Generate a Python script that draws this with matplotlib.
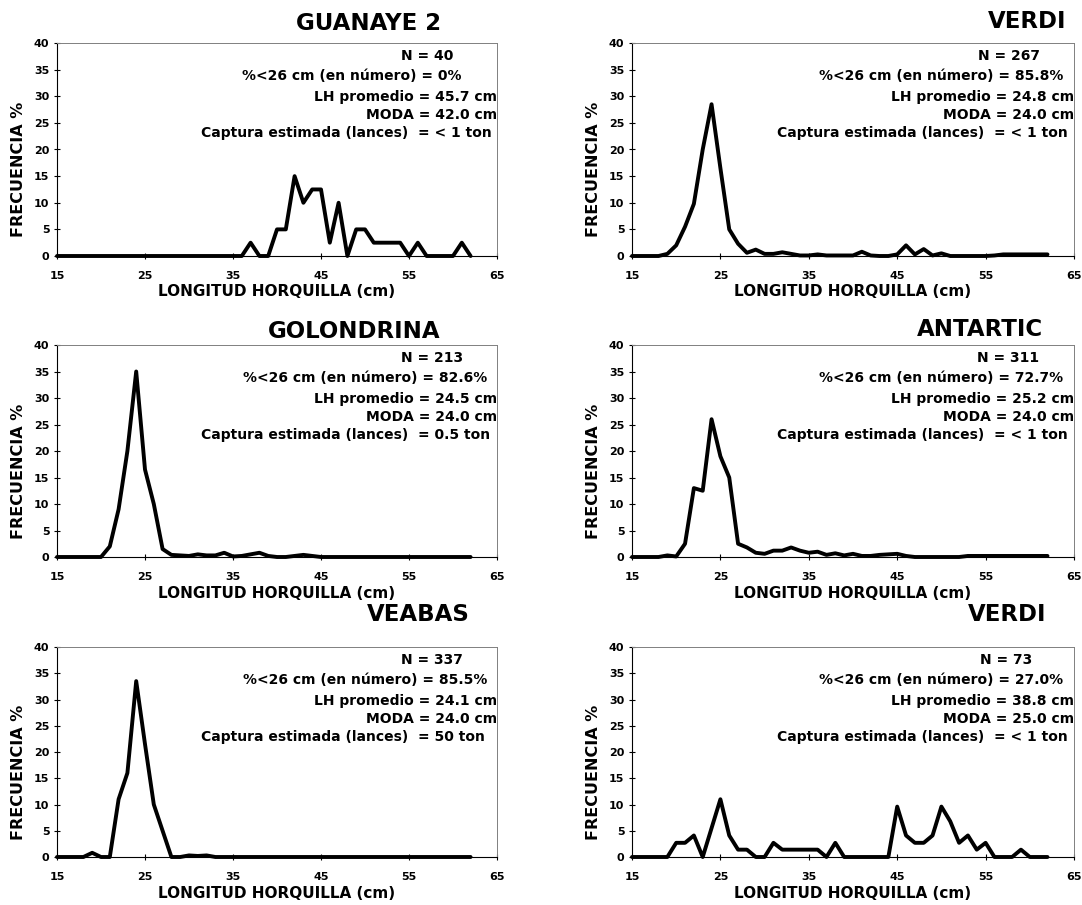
import numpy as np
import matplotlib
matplotlib.use("Agg")
import matplotlib.pyplot as plt

# datos: frecuencia % por longitud horquilla (cm), 15..62
longitud = np.arange(15, 63)

guanaye = [0, 0, 0, 0, 0, 0, 0, 0, 0, 0,
           0, 0, 0, 0, 0, 0, 0, 0, 0, 0,
           0, 0, 2.5, 0, 0, 5, 5, 15, 10, 12.5,
           12.5, 2.5, 10, 0, 5, 5, 2.5, 2.5, 2.5, 2.5,
           0, 2.5, 0, 0, 0, 0, 2.5, 0]
verdi_1 = [0, 0, 0, 0, 0.4, 2.0, 5.5, 9.8, 20.0, 28.5,
           16.5, 5.0, 2.3, 0.6, 1.2, 0.4, 0.4, 0.7, 0.4, 0.1,
           0.1, 0.3, 0.1, 0.1, 0.1, 0.1, 0.8, 0.1, 0, 0,
           0.3, 2.0, 0.3, 1.3, 0.1, 0.5, 0, 0, 0, 0,
           0, 0.1, 0.3, 0.3, 0.3, 0.3, 0.3, 0.3]
golondrina = [0, 0, 0, 0, 0, 0, 2, 9, 20, 35,
              16.5, 10, 1.5, 0.4, 0.3, 0.2, 0.5, 0.3, 0.3, 0.8,
              0.1, 0.2, 0.5, 0.8, 0.2, 0, 0, 0.2, 0.4, 0.2,
              0, 0, 0, 0, 0, 0, 0, 0, 0, 0,
              0, 0, 0, 0, 0, 0, 0, 0]
antartic = [0, 0, 0, 0, 0.3, 0.1, 2.5, 13, 12.5, 26,
            19, 15, 2.5, 1.8, 0.8, 0.6, 1.2, 1.2, 1.8, 1.2,
            0.8, 1.0, 0.4, 0.7, 0.3, 0.6, 0.2, 0.2, 0.4, 0.5,
            0.6, 0.2, 0, 0, 0, 0, 0, 0, 0.2, 0.2,
            0.2, 0.2, 0.2, 0.2, 0.2, 0.2, 0.2, 0.2]
veabas = [0, 0, 0, 0, 0.8, 0, 0, 11, 16, 33.5,
          21.5, 10, 5, 0, 0, 0.3, 0.2, 0.3, 0, 0,
          0, 0, 0, 0, 0, 0, 0, 0, 0, 0,
          0, 0, 0, 0, 0, 0, 0, 0, 0, 0,
          0, 0, 0, 0, 0, 0, 0, 0]
verdi_2 = [0, 0, 0, 0, 0, 2.7, 2.7, 4.1, 0, 5.5,
           11.0, 4.1, 1.4, 1.4, 0, 0, 2.7, 1.4, 1.4, 1.4,
           1.4, 1.4, 0, 2.7, 0, 0, 0, 0, 0, 0,
           9.6, 4.1, 2.7, 2.7, 4.1, 9.6, 6.8, 2.7, 4.1, 1.4,
           2.7, 0, 0, 0, 1.4, 0, 0, 0]

titulos = ['GUANAYE 2', 'VERDI', 'GOLONDRINA', 'ANTARTIC', 'VEABAS', 'VERDI']
series = [guanaye, verdi_1, golondrina, antartic, veabas, verdi_2]
n_muestra = ['40', '267', '213', '311', '337', '73']
pct_menor = ['0%', '85.8%', '82.6%', '72.7%', '85.5%', '27.0%']
lh_prom = ['45.7', '24.8', '24.5', '25.2', '24.1', '38.8']
moda = ['42.0', '24.0', '24.0', '24.0', '24.0', '25.0']
captura = ['< 1', '< 1', '0.5', '< 1', '50', '< 1']

# layout en pixeles (figura 1082 x 905)
W, H = 1082, 905
col_x = [(57, 497), (632, 1074)]
row_y = [(43, 256), (345, 557), (647, 857)]
title_pos = [(369, 23), (1027, 21), (354, 331), (980, 329), (418, 614), (1007, 614)]
line_off = [[-44, -35, 0, 0, -5], [-34, -11, 0, 0, -6], [-34, -10, 0, 0, -7],
            [-35, -11, 0, 0, -6], [-34, -10, 0, 0, -12], [-42, -11, 0, 0, -6]]
line_dy = [13, 33, 54, 72, 90]


def fx(px):
    return px / W


def fy(py):
    return 1 - py / H


plt.rcParams['font.family'] = ['DejaVu Sans']
plt.rcParams['font.weight'] = 'bold'

fig = plt.figure(figsize=(W / 100, H / 100), dpi=100)

for i in range(6):
    r, c = divmod(i, 2)
    x0, x1 = col_x[c]
    y0, y1 = row_y[r]
    ax = fig.add_axes([fx(x0), fy(y1), (x1 - x0) / W, (y1 - y0) / H])

    ax.plot(longitud, series[i], color='black', lw=2.8,
            solid_joinstyle='round', solid_capstyle='round', clip_on=False)

    ax.set_xlim(15, 65)
    ax.set_ylim(0, 40)
    ax.set_xticks(range(15, 66, 10))
    ax.set_yticks(range(0, 41, 5))
    ax.tick_params(axis='x', direction='inout', length=4, width=0.8, pad=8.5, labelsize=8)
    ax.tick_params(axis='y', direction='inout', length=4, width=0.8, pad=3.5, labelsize=8)
    for lab in ax.get_xticklabels() + ax.get_yticklabels():
        lab.set_fontweight('bold')

    for s in ['top', 'right']:
        ax.spines[s].set_color('0.5')
        ax.spines[s].set_linewidth(0.7)
    for s in ['left', 'bottom']:
        ax.spines[s].set_color('black')
        ax.spines[s].set_linewidth(0.8)

    # titulo
    tx, ty = title_pos[i]
    fig.text(fx(tx), fy(ty), titulos[i], ha='center', va='center',
             fontsize=16.5, fontweight='bold')

    # etiquetas de ejes
    fig.text(fx(x0 - 38), fy((y0 + y1) / 2 + 20), 'FRECUENCIA %', rotation=90,
             ha='center', va='center', fontsize=11.5, fontweight='bold')
    fig.text(fx((x0 + x1) / 2), fy(y1 + 36), 'LONGITUD HORQUILLA (cm)',
             ha='center', va='center', fontsize=11, fontweight='bold')

    # cuadro de texto
    lineas = ['N = ' + n_muestra[i],
              '%<26 cm (en número) = ' + pct_menor[i],
              'LH promedio = ' + lh_prom[i] + ' cm',
              'MODA = ' + moda[i] + ' cm',
              'Captura estimada (lances)  = ' + captura[i] + ' ton']
    for k, txt in enumerate(lineas):
        fig.text(fx(x1 + line_off[i][k]), fy(y0 + line_dy[k]), txt,
                 ha='right', va='center', fontsize=10, fontweight='bold')

fig.savefig('out.png', dpi=100)
